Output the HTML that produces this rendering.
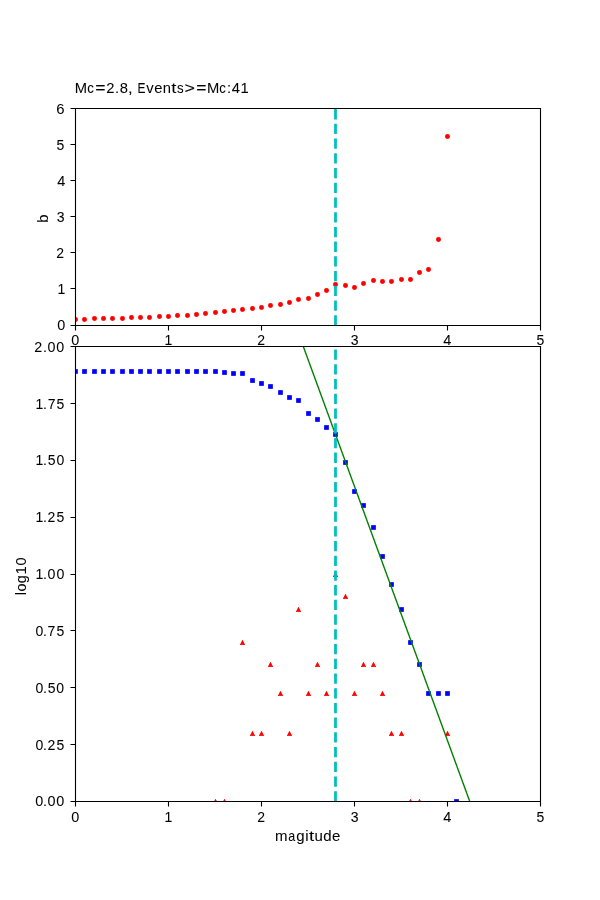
<!DOCTYPE html>
<html lang="en"><head><meta charset="utf-8"><title>Mc=2.8, Events&gt;=Mc:41</title>
<style>
html,body{margin:0;padding:0;background:#ffffff;}
body{width:600px;height:900px;overflow:hidden;}
svg{display:block;will-change:transform;}
text{font-family:"Liberation Sans",sans-serif;font-size:14px;fill:#000000;stroke:#000000;stroke-width:0.05px;}
.sp{stroke:#000;stroke-width:1.111;fill:none;}
.dot{fill:#ff0000;}
.sq{fill:#0000ff;}
.tri{fill:#ff0000;}
.mc{stroke:#00bfbf;stroke-width:2.778;stroke-dasharray:10.278 4.444;fill:none;}
.gr{stroke:#008000;stroke-width:1.389;stroke-linecap:square;fill:none;}
</style></head><body>
<svg width="600" height="900" viewBox="0 0 600 900">
<defs>
<clipPath id="c1"><rect x="75" y="108" width="465" height="217"/></clipPath>
<clipPath id="c2"><rect x="75" y="346" width="465" height="455"/></clipPath>
<g id="d" class="dot"><circle r="2.083"/><path fill-rule="evenodd" d="M-2.431 0 A2.431 2.431 0 1 1 2.431 0 A2.431 2.431 0 1 1 -2.431 0 Z M-1.736 0 A1.736 1.736 0 1 1 1.736 0 A1.736 1.736 0 1 1 -1.736 0 Z"/></g>
<rect id="s" class="sq" x="-2.35" y="-2.35" width="4.7" height="4.7"/>
<g id="t" class="tri"><path d="M0 -2.083 L-2.083 2.083 L2.083 2.083 Z"/><path fill-rule="evenodd" d="M-0.18 -2.5 L0.18 -2.5 L2.5 2.14 L2.5 2.431 L-2.5 2.431 L-2.5 2.14 Z M0 -1.307 L-1.522 1.736 L1.522 1.736 Z"/></g>
</defs>
<rect width="600" height="900" fill="#ffffff"/>
<g clip-path="url(#c1)">
<use href="#d" x="75.5" y="319.5"/>
<use href="#d" x="84.5" y="319.5"/>
<use href="#d" x="94.5" y="318.5"/>
<use href="#d" x="103.5" y="318.5"/>
<use href="#d" x="112.5" y="318.5"/>
<use href="#d" x="122.5" y="318.5"/>
<use href="#d" x="131.5" y="317.5"/>
<use href="#d" x="140.5" y="317.5"/>
<use href="#d" x="149.5" y="317.5"/>
<use href="#d" x="159.5" y="316.5"/>
<use href="#d" x="168.5" y="316.5"/>
<use href="#d" x="177.5" y="315.5"/>
<use href="#d" x="187.5" y="315.5"/>
<use href="#d" x="196.5" y="314.5"/>
<use href="#d" x="205.5" y="313.5"/>
<use href="#d" x="215.5" y="312.5"/>
<use href="#d" x="224.5" y="311.5"/>
<use href="#d" x="233.5" y="310.5"/>
<use href="#d" x="242.5" y="309.5"/>
<use href="#d" x="252.5" y="308.5"/>
<use href="#d" x="261.5" y="307.5"/>
<use href="#d" x="270.5" y="305.5"/>
<use href="#d" x="280.5" y="304.5"/>
<use href="#d" x="289.5" y="302.5"/>
<use href="#d" x="298.5" y="299.5"/>
<use href="#d" x="308.5" y="298.5"/>
<use href="#d" x="317.5" y="294.5"/>
<use href="#d" x="326.5" y="290.5"/>
<use href="#d" x="335.5" y="284.5"/>
<use href="#d" x="345.5" y="285.5"/>
<use href="#d" x="354.5" y="287.5"/>
<use href="#d" x="363.5" y="283.5"/>
<use href="#d" x="373.5" y="280.5"/>
<use href="#d" x="382.5" y="281.5"/>
<use href="#d" x="391.5" y="281.5"/>
<use href="#d" x="401.5" y="279.5"/>
<use href="#d" x="410.5" y="279.5"/>
<use href="#d" x="419.5" y="272.5"/>
<use href="#d" x="428.5" y="269.5"/>
<use href="#d" x="438.5" y="239.5"/>
<use href="#d" x="447.5" y="136.5"/>
<path class="mc" d="M335.5 325.5 V108.5"/>
</g>
<g clip-path="url(#c2)">
<use href="#t" x="215.5" y="801.5"/>
<use href="#t" x="224.5" y="801.5"/>
<use href="#t" x="242.5" y="642.5"/>
<use href="#t" x="252.5" y="733.5"/>
<use href="#t" x="261.5" y="733.5"/>
<use href="#t" x="270.5" y="664.5"/>
<use href="#t" x="280.5" y="693.5"/>
<use href="#t" x="289.5" y="733.5"/>
<use href="#t" x="298.5" y="609.5"/>
<use href="#t" x="308.5" y="693.5"/>
<use href="#t" x="317.5" y="664.5"/>
<use href="#t" x="326.5" y="693.5"/>
<use href="#t" x="335.5" y="574.5"/>
<use href="#t" x="345.5" y="596.5"/>
<use href="#t" x="354.5" y="693.5"/>
<use href="#t" x="363.5" y="664.5"/>
<use href="#t" x="373.5" y="664.5"/>
<use href="#t" x="382.5" y="693.5"/>
<use href="#t" x="391.5" y="733.5"/>
<use href="#t" x="401.5" y="733.5"/>
<use href="#t" x="410.5" y="801.5"/>
<use href="#t" x="419.5" y="801.5"/>
<use href="#t" x="447.5" y="733.5"/>
<use href="#s" x="75.5" y="371.5"/>
<use href="#s" x="84.5" y="371.5"/>
<use href="#s" x="94.5" y="371.5"/>
<use href="#s" x="103.5" y="371.5"/>
<use href="#s" x="112.5" y="371.5"/>
<use href="#s" x="122.5" y="371.5"/>
<use href="#s" x="131.5" y="371.5"/>
<use href="#s" x="140.5" y="371.5"/>
<use href="#s" x="149.5" y="371.5"/>
<use href="#s" x="159.5" y="371.5"/>
<use href="#s" x="168.5" y="371.5"/>
<use href="#s" x="177.5" y="371.5"/>
<use href="#s" x="187.5" y="371.5"/>
<use href="#s" x="196.5" y="371.5"/>
<use href="#s" x="205.5" y="371.5"/>
<use href="#s" x="215.5" y="371.5"/>
<use href="#s" x="224.5" y="372.5"/>
<use href="#s" x="233.5" y="373.5"/>
<use href="#s" x="242.5" y="373.5"/>
<use href="#s" x="252.5" y="380.5"/>
<use href="#s" x="261.5" y="383.5"/>
<use href="#s" x="270.5" y="386.5"/>
<use href="#s" x="280.5" y="392.5"/>
<use href="#s" x="289.5" y="397.5"/>
<use href="#s" x="298.5" y="400.5"/>
<use href="#s" x="308.5" y="413.5"/>
<use href="#s" x="317.5" y="419.5"/>
<use href="#s" x="326.5" y="427.5"/>
<use href="#s" x="335.5" y="434.5"/>
<use href="#s" x="345.5" y="462.5"/>
<use href="#s" x="354.5" y="491.5"/>
<use href="#s" x="363.5" y="505.5"/>
<use href="#s" x="373.5" y="527.5"/>
<use href="#s" x="382.5" y="556.5"/>
<use href="#s" x="391.5" y="584.5"/>
<use href="#s" x="401.5" y="609.5"/>
<use href="#s" x="410.5" y="642.5"/>
<use href="#s" x="419.5" y="664.5"/>
<use href="#s" x="428.5" y="693.5"/>
<use href="#s" x="438.5" y="693.5"/>
<use href="#s" x="447.5" y="693.5"/>
<use href="#s" x="456.5" y="801.5"/>
<path class="gr" d="M299.541 336.219 L473.259 811"/>
<path class="mc" d="M335.5 801.5 V346.5"/>
</g>
<path class="sp" d="M70.5 325.5 H75.5 M70.5 288.5 H75.5 M70.5 252.5 H75.5 M70.5 216.5 H75.5 M70.5 180.5 H75.5 M70.5 144.5 H75.5 M70.5 108.5 H75.5 M75.5 325.5 V330.5 M168.5 325.5 V330.5 M261.5 325.5 V330.5 M354.5 325.5 V330.5 M447.5 325.5 V330.5 M540.5 325.5 V330.5"/>
<path class="sp" stroke-linejoin="miter" d="M75.5 108.5 H540.5 V325.5 H75.5 Z"/>
<path class="sp" d="M70.5 801.5 H75.5 M70.5 744.5 H75.5 M70.5 687.5 H75.5 M70.5 630.5 H75.5 M70.5 574.5 H75.5 M70.5 517.5 H75.5 M70.5 460.5 H75.5 M70.5 403.5 H75.5 M70.5 346.5 H75.5 M75.5 801.5 V806.5 M168.5 801.5 V806.5 M261.5 801.5 V806.5 M354.5 801.5 V806.5 M447.5 801.5 V806.5 M540.5 801.5 V806.5"/>
<path class="sp" stroke-linejoin="miter" d="M75.5 346.5 H540.5 V801.5 H75.5 Z"/>
<g opacity="0.999">
<text transform="translate(76.373 93.045) scale(1.055 1)" y="0"><tspan x="-1.445">M</tspan><tspan x="10.287" textLength="6.258" lengthAdjust="spacingAndGlyphs">c</tspan><tspan x="17.943" textLength="9.743" lengthAdjust="spacingAndGlyphs">=</tspan><tspan x="28.392 36.738 41.091">2.8</tspan><tspan x="48.75" textLength="4.819" lengthAdjust="spacingAndGlyphs">,</tspan><tspan x="57.36"> </tspan><tspan x="57.831" textLength="7.551" lengthAdjust="spacingAndGlyphs">E</tspan><tspan x="66.245 73.815 81.882">ven</tspan><tspan x="89.997" textLength="4.888" lengthAdjust="spacingAndGlyphs">t</tspan><tspan x="95.428" textLength="6.309" lengthAdjust="spacingAndGlyphs">s</tspan><tspan x="102.472" textLength="9.895" lengthAdjust="spacingAndGlyphs">&gt;</tspan><tspan x="113.55" textLength="9.743" lengthAdjust="spacingAndGlyphs">=</tspan><tspan x="123.776">M</tspan><tspan x="135.511" textLength="6.228" lengthAdjust="spacingAndGlyphs">c</tspan><tspan x="142.766 147.174 155.516">:41</tspan></text>
<text transform="translate(276.247 840.949) scale(1.073 1)" y="0"><tspan x="-1.103">m</tspan><tspan x="11.268" textLength="6.474" lengthAdjust="spacingAndGlyphs">a</tspan><tspan x="18.723 27.022">gi</tspan><tspan x="30.493" textLength="4.819" lengthAdjust="spacingAndGlyphs">t</tspan><tspan x="35.672 43.887 52.076">ude</tspan></text>
<text transform="translate(47.941 221.749) rotate(-90) scale(1.068 1)" x="-0.902" y="0">b</text>
<text transform="translate(25.961 593.749) rotate(-90) scale(1.036 1)" x="-1.462 2.161 10.077 18.713 27.194" y="0">log10</text>
<text transform="translate(72.898 344.976) scale(1.03 1)" x="-1.518" y="0">0</text>
<text transform="translate(165.714 345) scale(1 1)" x="-1.128" y="0">1</text>
<text transform="translate(258 345) scale(1 1)" x="-0.705" y="0">2</text>
<text transform="translate(351.384 344.976) scale(1 1)" x="-0.73" y="0">3</text>
<text transform="translate(443.686 344.753) scale(1.035 1)" x="-0.321" y="0">4</text>
<text transform="translate(537.341 344.976) scale(1 1)" x="-0.785" y="0">5</text>
<text transform="translate(57.898 329.976) scale(1.03 1)" x="-0.547" y="0">0</text>
<text transform="translate(58.714 294) scale(1 1)" x="-1.128" y="0">1</text>
<text transform="translate(58 258) scale(1 1)" x="-1.705" y="0">2</text>
<text transform="translate(58.384 221.976) scale(1 1)" x="-1.73" y="0">3</text>
<text transform="translate(57.686 185.753) scale(1.035 1)" x="-0.321" y="0">4</text>
<text transform="translate(58.341 149.976) scale(1 1)" x="-1.785" y="0">5</text>
<text transform="translate(57.02 113.973) scale(1.065 1)" x="-0.711" y="0">6</text>
<text transform="translate(72.898 821.976) scale(1.03 1)" x="-1.518" y="0">0</text>
<text transform="translate(165.714 822) scale(1 1)" x="-1.128" y="0">1</text>
<text transform="translate(258 822) scale(1 1)" x="-0.705" y="0">2</text>
<text transform="translate(351.384 821.976) scale(1 1)" x="-0.73" y="0">3</text>
<text transform="translate(443.686 821.753) scale(1.035 1)" x="-0.321" y="0">4</text>
<text transform="translate(537.341 821.976) scale(1 1)" x="-0.785" y="0">5</text>
<text transform="translate(36.898 805.976) scale(1.03 1)" x="-1.519 5.859 10.25 18.745" y="0">0.00</text>
<text transform="translate(36.898 750) scale(1 1)" x="-1.448 6.094 10.521 19.562" y="0">0.25</text>
<text transform="translate(36.898 692.976) scale(1.001 1)" x="-1.45 6.086 10.755 19.404" y="0">0.50</text>
<text transform="translate(36.898 636) scale(1 1)" x="-1.448 6.094 10.68 19.562" y="0">0.75</text>
<text transform="translate(36.714 579) scale(1.014 1)" x="-1.168 6.291 10.764 19.416" y="0">1.00</text>
<text transform="translate(36.714 522) scale(1 1)" x="-1.128 6.404 10.83 19.842" y="0">1.25</text>
<text transform="translate(36.714 465) scale(1 1)" x="-1.128 6.404 11.066 19.736" y="0">1.50</text>
<text transform="translate(36.714 409) scale(1 1)" x="-1.128 6.404 10.99 19.842" y="0">1.75</text>
<text transform="translate(36 352) scale(1.021 1)" x="-1.75 6.808 11.254 19.824" y="0">2.00</text>
</g>
</svg>
</body></html>
